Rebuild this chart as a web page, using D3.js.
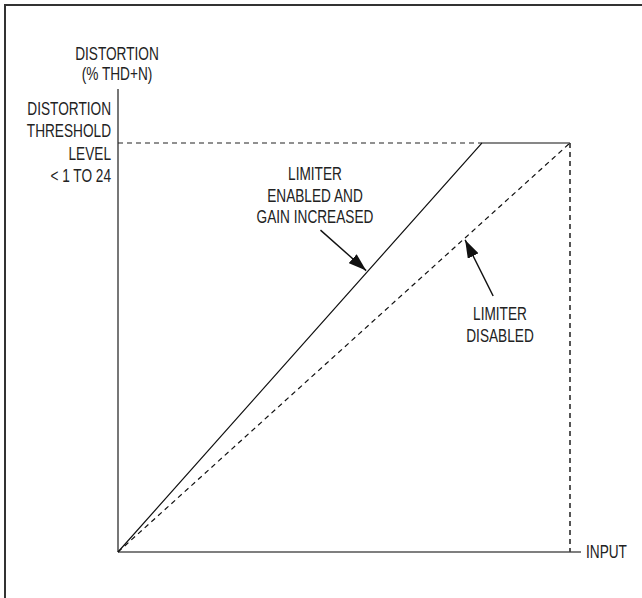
<!DOCTYPE html>
<html>
<head>
<meta charset="utf-8">
<script src="https://cdn.jsdelivr.net/npm/d3@7"></script>
<style>
  html, body { margin: 0; padding: 0; background: #fff; }
  svg { display: block; }
  text { font-family: "Liberation Sans", Arial, sans-serif; fill: #222; font-size: 17.5px; }
</style>
</head>
<body>
<script>
// ---- data ----
const inputDomain = [0, 1];          // normalized input
const distortionDomain = [0, 1];     // normalized distortion (1 = threshold level)
const limiterDisabledX = [0, 1];
const limiterDisabledY = [0, 1];
const limiterEnabledX = [0, 0.805, 1];
const limiterEnabledY = [0, 1, 1];
const thresholdLevel = 1;
const yTitleLines = ["DISTORTION", "(% THD+N)"];
const yTickLines = ["DISTORTION", "THRESHOLD", "LEVEL", "< 1 TO 24"];
const xTitle = "INPUT";
const enabledLabel = ["LIMITER", "ENABLED AND", "GAIN INCREASED"];
const disabledLabel = ["LIMITER", "DISABLED"];

const W = 642, H = 598;
const SX = 0.78; // horizontal condensing of text
const svg = d3.select("body").append("svg").attr("width", W).attr("height", H);

// frame (top and left only)
svg.append("path").attr("d", `M5,${H} L5,5 L${W},5`)
  .attr("fill", "none").attr("stroke", "#333").attr("stroke-width", 2);

const x = d3.scaleLinear().domain(inputDomain).range([118, 570]);
const y = d3.scaleLinear().domain(distortionDomain).range([552, 143]);

// axes
svg.append("line").attr("x1", x(0)).attr("x2", 581).attr("y1", y(0)).attr("y2", y(0))
  .attr("stroke", "#555").attr("stroke-width", 1.6);
svg.append("line").attr("x1", x(0)).attr("x2", x(0)).attr("y1", y(0)).attr("y2", 89)
  .attr("stroke", "#555").attr("stroke-width", 1.6);

// threshold dashed line
svg.append("line").attr("x1", x(0)).attr("x2", x(limiterEnabledX[1]))
  .attr("y1", y(thresholdLevel)).attr("y2", y(thresholdLevel))
  .attr("stroke", "#222").attr("stroke-width", 1.2).attr("stroke-dasharray", "5,4");
// vertical dashed at full input
svg.append("line").attr("x1", x(1)).attr("x2", x(1))
  .attr("y1", y(thresholdLevel)).attr("y2", y(0))
  .attr("stroke", "#444").attr("stroke-width", 1.8).attr("stroke-dasharray", "5,4");

const line = d3.line().x(d => x(d[0])).y(d => y(d[1]));
// limiter disabled (dashed)
svg.append("path").datum(d3.zip(limiterDisabledX, limiterDisabledY)).attr("d", line)
  .attr("fill", "none").attr("stroke", "#111").attr("stroke-width", 1.2).attr("stroke-dasharray", "5,4");
// limiter enabled (solid)
svg.append("path").datum(d3.zip(limiterEnabledX, limiterEnabledY)).attr("d", line)
  .attr("fill", "none").attr("stroke", "#111").attr("stroke-width", 1.2);

// arrow marker
svg.append("defs").append("marker").attr("id", "ah")
  .attr("viewBox", "0 0 18 12").attr("refX", 18).attr("refY", 6)
  .attr("markerWidth", 18).attr("markerHeight", 12).attr("markerUnits", "userSpaceOnUse")
  .attr("orient", "auto")
  .append("path").attr("d", "M0,0 L18,6 L0,12 Z").attr("fill", "#111");

function arrow(x1, y1, x2, y2) {
  svg.append("line").attr("x1", x(x1)).attr("y1", y(y1)).attr("x2", x(x2)).attr("y2", y(y2))
    .attr("stroke", "#111").attr("stroke-width", 1.4).attr("marker-end", "url(#ah)");
}
arrow(0.448, 0.787, 0.549, 0.688);
arrow(0.830, 0.626, 0.768, 0.763);

// text helpers (condensed via horizontal scale)
const tg = svg.append("g").attr("transform", `scale(${SX},1)`);
function block(lines, cx, baseline0, step, anchor) {
  const t = tg.append("text").attr("text-anchor", anchor);
  lines.forEach((s, i) => t.append("tspan").attr("x", cx / SX).attr("y", baseline0 + i * step).text(s));
}
block(yTitleLines, 117, 60.5, 19.5, "middle");
block(yTickLines, 111, y(thresholdLevel) - 28, 22.5, "end");
block(enabledLabel, 315, 180, 21.7, "middle");
block(disabledLabel, 500, 320, 21.7, "middle");
block([xTitle], 586, y(0) + 6, 0, "start");
</script>
</body>
</html>
